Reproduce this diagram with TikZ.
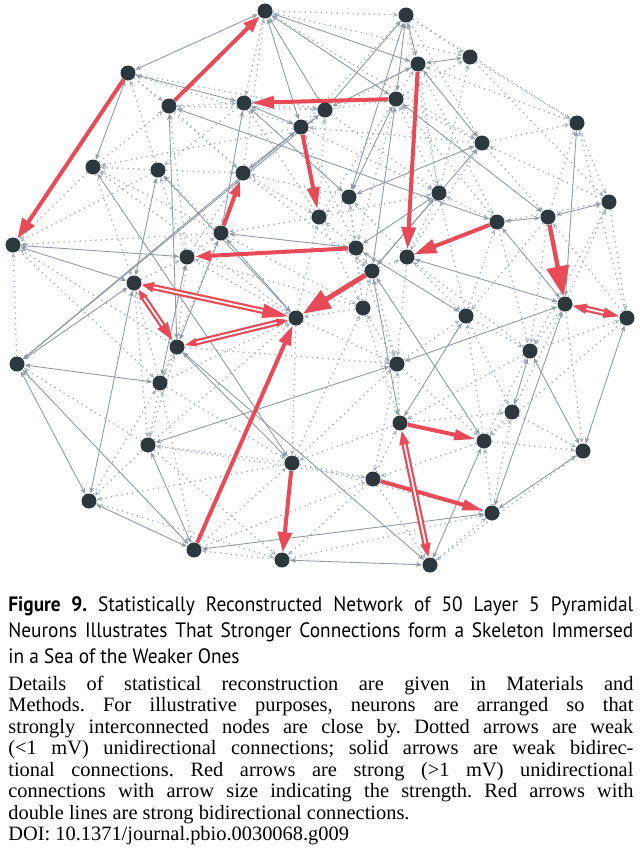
\documentclass[tikz,border=0pt]{standalone}
\usepackage{fontspec}
\setmainfont{Liberation Serif}
\newfontfamily\capsans[FakeStretch=0.93]{PT Sans}
\usetikzlibrary{arrows.meta, backgrounds}
\frenchspacing

\definecolor{cellfill}{RGB}{46,56,60}
\definecolor{strongred}{RGB}{232,74,88}
\definecolor{weakgray}{RGB}{145,155,168}
\definecolor{dotgray}{RGB}{165,176,192}

\tikzset{
    cell/.style={circle, fill=cellfill, inner sep=0pt, minimum size=7.5pt},
    weak/.style={draw=weakgray, line width=0.45pt,
        {Stealth[length=3pt, width=2.4pt]}-{Stealth[length=3pt, width=2.4pt]}},
    faint/.style={draw=dotgray, line width=0.65pt, dotted,
        -{Stealth[length=2.6pt, width=2.2pt]}},
    strong/.style={draw=strongred, line width=2pt},
    strongboth/.style={draw=strongred, line width=1.1pt,
        double=white, double distance=0.9pt},
}

\begin{document}
\begin{tikzpicture}[x=0.5pt, y=-0.5pt]
    \useasboundingbox (0, 0) rectangle (640, 853);
    % neurons
    \node[cell] (n1) at (265, 11) {};
    \node[cell] (n2) at (406, 15) {};
    \node[cell] (n3) at (128, 73) {};
    \node[cell] (n4) at (418, 64) {};
    \node[cell] (n5) at (470, 57) {};
    \node[cell] (n6) at (169, 106) {};
    \node[cell] (n7) at (244, 103) {};
    \node[cell] (n8) at (325, 110) {};
    \node[cell] (n9) at (396, 99) {};
    \node[cell] (n10) at (301, 127) {};
    \node[cell] (n11) at (482, 143) {};
    \node[cell] (n12) at (577, 123) {};
    \node[cell] (n13) at (93, 167) {};
    \node[cell] (n14) at (158, 170) {};
    \node[cell] (n15) at (243, 173) {};
    \node[cell] (n16) at (439, 193) {};
    \node[cell] (n17) at (349, 197) {};
    \node[cell] (n18) at (609, 202) {};
    \node[cell] (n19) at (319, 217) {};
    \node[cell] (n20) at (497, 222) {};
    \node[cell] (n21) at (548, 217) {};
    \node[cell] (n22) at (13, 245) {};
    \node[cell] (n23) at (221, 233) {};
    \node[cell] (n24) at (187, 257) {};
    \node[cell] (n25) at (356, 248) {};
    \node[cell] (n26) at (407, 257) {};
    \node[cell] (n27) at (372, 271) {};
    \node[cell] (n28) at (134, 283) {};
    \node[cell] (n29) at (296, 318) {};
    \node[cell] (n30) at (363, 308) {};
    \node[cell] (n31) at (466, 316) {};
    \node[cell] (n32) at (565, 304) {};
    \node[cell] (n33) at (627, 318) {};
    \node[cell] (n34) at (177, 347) {};
    \node[cell] (n35) at (17, 364) {};
    \node[cell] (n36) at (530, 351) {};
    \node[cell] (n37) at (397, 364) {};
    \node[cell] (n38) at (160, 383) {};
    \node[cell] (n39) at (148, 445) {};
    \node[cell] (n40) at (89, 501) {};
    \node[cell] (n41) at (194, 550) {};
    \node[cell] (n42) at (292, 463) {};
    \node[cell] (n43) at (282, 560) {};
    \node[cell] (n44) at (400, 423) {};
    \node[cell] (n45) at (484, 441) {};
    \node[cell] (n46) at (512, 412) {};
    \node[cell] (n47) at (583, 451) {};
    \node[cell] (n48) at (373, 479) {};
    \node[cell] (n49) at (492, 513) {};
    \node[cell] (n50) at (430, 565) {};

    \begin{scope}[on background layer]
        % weak unidirectional (dotted)
        \foreach \a/\b in {1/2, 1/5, 6/1, 1/7, 1/11, 15/1, 2/5, 10/2, 2/11, 16/2,
            2/12, 3/6, 3/8, 14/3, 3/15, 10/3, 4/10, 12/4, 4/16, 19/4, 4/20,
            5/12, 9/5, 5/18, 16/5, 6/7, 13/6, 6/15, 8/6, 24/6, 7/8, 9/7, 7/14,
            19/7, 8/9, 15/8, 8/16, 19/8, 9/11, 16/9, 9/25, 20/9, 11/10, 10/13,
            25/10, 10/16, 11/12, 18/11, 11/21, 26/11, 12/18, 21/12, 33/12,
            14/13, 13/22, 23/13, 13/28, 29/13, 14/15, 23/14, 14/22, 24/14,
            15/19, 24/15, 15/27, 17/15, 20/16, 16/26, 19/16, 31/16, 17/19,
            26/17, 17/25, 30/17, 20/18, 18/33, 32/18, 18/36, 19/23, 25/19,
            19/30, 29/19, 31/20, 20/36, 26/20, 21/31, 33/21, 21/36, 35/22,
            22/38, 34/22, 23/22, 24/23, 23/30, 38/23, 28/24, 24/29, 34/24,
            30/24, 25/27, 30/25, 25/37, 27/26, 26/31, 36/26, 26/37, 30/27,
            27/37, 38/28, 28/39, 30/29, 29/37, 38/29, 29/42, 39/29, 37/30,
            30/44, 42/30, 31/36, 37/31, 31/46, 45/31, 32/36, 46/32, 32/47,
            36/33, 33/45, 34/38, 39/34, 34/37, 39/35, 45/36, 36/44, 44/37,
            37/45, 42/37, 37/48, 38/39, 40/38, 38/42, 41/38, 39/40, 42/39,
            39/43, 48/39, 40/43, 42/40, 41/42, 43/41, 41/48, 42/48, 44/42,
            43/42, 42/49, 48/43, 43/49, 44/46, 48/44, 46/45, 45/47, 49/45,
            45/48, 46/47, 49/46, 47/50, 48/50, 50/49}
            \draw[faint] (n\a) -- (n\b);
        % weak bidirectional (solid)
        \foreach \a/\b in {1/3, 1/10, 1/8, 1/4, 1/9, 3/7, 3/13, 6/34, 7/10,
            7/23, 7/17, 10/15, 10/35, 8/35, 2/4, 2/9, 2/17, 2/8, 4/5, 4/11,
            4/8, 9/17, 9/27, 9/21, 11/17, 11/27, 12/32, 16/25, 16/27, 21/18,
            20/21, 26/32, 25/31, 32/37, 32/49, 33/47, 36/46, 36/47, 27/44,
            31/44, 27/45, 45/50, 47/49, 43/50, 41/49, 34/50, 35/40, 35/41,
            28/40, 40/41, 39/41, 37/39, 34/42, 22/24, 22/28, 23/25, 23/29,
            28/35, 13/42, 34/23, 38/24, 35/38, 28/14, 6/20, 20/32, 14/29}
            \draw[weak] (n\a) -- (n\b);
        % strong unidirectional
        \draw[strong, -{Triangle[length=8pt, width=6pt]}] (n6) -- (n1);
        \draw[strong, -{Triangle[length=10pt, width=7pt]}] (n3) -- (n22);
        \draw[strong, -{Triangle[length=11pt, width=6pt]}] (n9) -- (n7);
        \draw[strong, -{Triangle[length=11pt, width=6pt]}] (n10) -- (n19);
        \draw[strong, -{Triangle[length=11pt, width=7pt]}] (n4) -- (n26);
        \draw[strong, -{Triangle[length=11pt, width=7pt]}] (n20) -- (n26);
        \draw[strong, -{Triangle[length=8pt, width=5pt]}] (n23) -- (n15);
        \draw[strong, -{Triangle[length=8pt, width=5pt]}] (n25) -- (n24);
        \draw[strong, line width=2.5pt, -{Triangle[length=14pt, width=10pt]}]
            (n27) -- (n29);
        \draw[strong, line width=2.2pt, -{Triangle[length=15pt, width=11pt]}]
            (n21) -- (n32);
        \draw[strong, -{Triangle[length=10pt, width=6pt]}] (n41) -- (n29);
        \draw[strong, -{Triangle[length=10pt, width=7pt]}] (n42) -- (n43);
        \draw[strong, -{Triangle[length=11pt, width=5pt]}] (n44) -- (n45);
        \draw[strong, -{Triangle[length=11pt, width=5pt]}] (n48) -- (n49);
        % strong bidirectional
        \draw[strongboth, {Triangle[length=7pt, width=5pt]}-{Triangle[length=8pt, width=5pt]}]
            (n32) -- (n33);
        \draw[strongboth, {Triangle[length=6pt, width=5pt]}-{Triangle[length=13pt, width=7pt]}]
            (n28) -- (n29);
        \draw[strongboth, {Triangle[length=5pt, width=4pt]}-{Triangle[length=9pt, width=6pt]}]
            (n28) -- (n34);
        \draw[strongboth, {Triangle[length=6pt, width=4pt]}-{Triangle[length=6pt, width=4pt]}]
            (n34) -- (n29);
        \draw[strongboth, {Triangle[length=7pt, width=5pt]}-{Triangle[length=7pt, width=5pt]}]
            (n44) -- (n50);
    \end{scope}

    % caption
    \node[anchor=base west, text width=312.5pt, inner sep=0pt, align=justify,
        font=\capsans\fontsize{10.4}{13}\selectfont] (title) at (8, 611)
        {\textbf{Figure 9.} Statistically Reconstructed Network of 50 Layer 5
        Pyramidal\linebreak Neurons Illustrates That Stronger Connections form
        a Skeleton Immersed\linebreak in a Sea of the Weaker Ones};
    \node[anchor=base west, text width=312.5pt, inner sep=0pt, align=justify,
        font=\fontsize{10.2}{10.75}\selectfont] (legend) at (8, 690)
        {Details of statistical reconstruction are given in Materials
        and\linebreak Methods. For illustrative purposes, neurons are arranged
        so that\linebreak strongly interconnected nodes are close by. Dotted
        arrows are weak\linebreak (<1 mV) unidirectional connections; solid
        arrows are weak bidirec-\linebreak tional connections. Red arrows are
        strong (>1 mV) unidirectional\linebreak connections with arrow size
        indicating the strength. Red arrows with\linebreak double lines are
        strong bidirectional connections.\newline
        DOI: 10.1371/journal.pbio.0030068.g009};
\end{tikzpicture}
\end{document}
